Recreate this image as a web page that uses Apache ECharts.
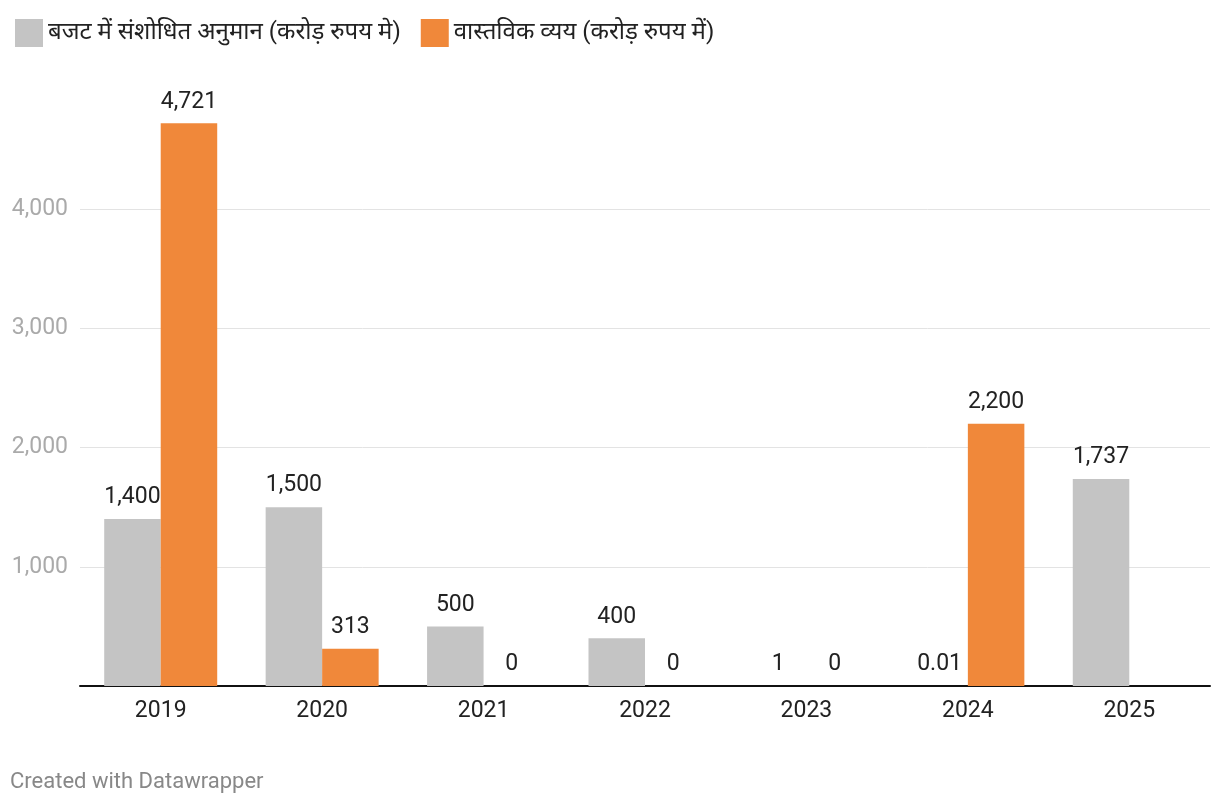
<!DOCTYPE html>
<html>
<head>
<meta charset="utf-8">
<script src="https://cdn.jsdelivr.net/npm/echarts@6/dist/echarts.min.js"></script>
<style>
html,body{margin:0;padding:0;background:#fff;}
#c{width:1220px;height:808px;}
</style>
</head>
<body>
<div id="c"></div>
<script>
const categories = ['2019','2020','2021','2022','2023','2024','2025'];
const revisedEstimate = [1400, 1500, 500, 400, 1, 0.01, 1737];
const actualSpend = [4721, 313, 0, 0, 0, 2200, null];
const yTicks = [0, 1000, 2000, 3000, 4000, 5000];
const seriesNames = ['बजट में संशोधित अनुमान (करोड़ रुपय मे)', 'वास्तविक व्यय (करोड़ रुपय में)'];

const FONT = 'Roboto, "Noto Sans Devanagari", "Noto Sans", sans-serif';
const fmt = v => (v === null || v === undefined) ? '' : Number(v).toLocaleString('en-US', {maximumFractionDigits: 2});

const chart = echarts.init(document.getElementById('c'), null, {renderer: 'canvas'});
const labelCfg = {
  show: true, position: 'top', distance: 10,
  color: '#222', fontSize: 23, fontFamily: FONT,
  formatter: p => fmt(p.value)
};
chart.setOption({
  animation: false,
  textStyle: {fontFamily: FONT},
  legend: {
    left: 10, top: 14, itemWidth: 28, itemHeight: 28, itemGap: 20,
    icon: 'rect',
    textStyle: {fontSize: 24, color: '#222', fontFamily: FONT, padding: [0, 0, 0, 0]},
    data: seriesNames
  },
  graphic: [{
    type: 'text', left: 10, top: 771,
    style: {text: 'Created with Datawrapper', fill: '#888', fontSize: 22, fontFamily: FONT}
  }],
  grid: {left: 80, right: 10, top: 90, bottom: 122},
  xAxis: {
    type: 'category', data: categories,
    axisLine: {show: true, lineStyle: {color: '#111', width: 2}},
    axisTick: {show: false},
    axisLabel: {color: '#222', fontSize: 23, margin: 14, fontFamily: FONT}
  },
  yAxis: {
    type: 'value', min: yTicks[0], max: yTicks[yTicks.length - 1], interval: 1000,
    axisLine: {show: false}, axisTick: {show: false},
    axisLabel: {
      color: '#aaa', fontSize: 23, margin: 12, fontFamily: FONT,
      formatter: v => (v === 0 || v === 5000) ? '' : fmt(v)
    },
    splitLine: {lineStyle: {color: ['transparent', '#e3e3e3', '#e3e3e3', '#e3e3e3', '#e3e3e3', 'transparent'], width: 1}}
  },
  series: [
    {name: seriesNames[0], type: 'bar', data: revisedEstimate, barGap: '0%', barCategoryGap: '30%',
     itemStyle: {color: '#c4c4c4'}, label: labelCfg},
    {name: seriesNames[1], type: 'bar', data: actualSpend,
     itemStyle: {color: '#f0883a'}, label: labelCfg}
  ]
});
</script>
</body>
</html>
